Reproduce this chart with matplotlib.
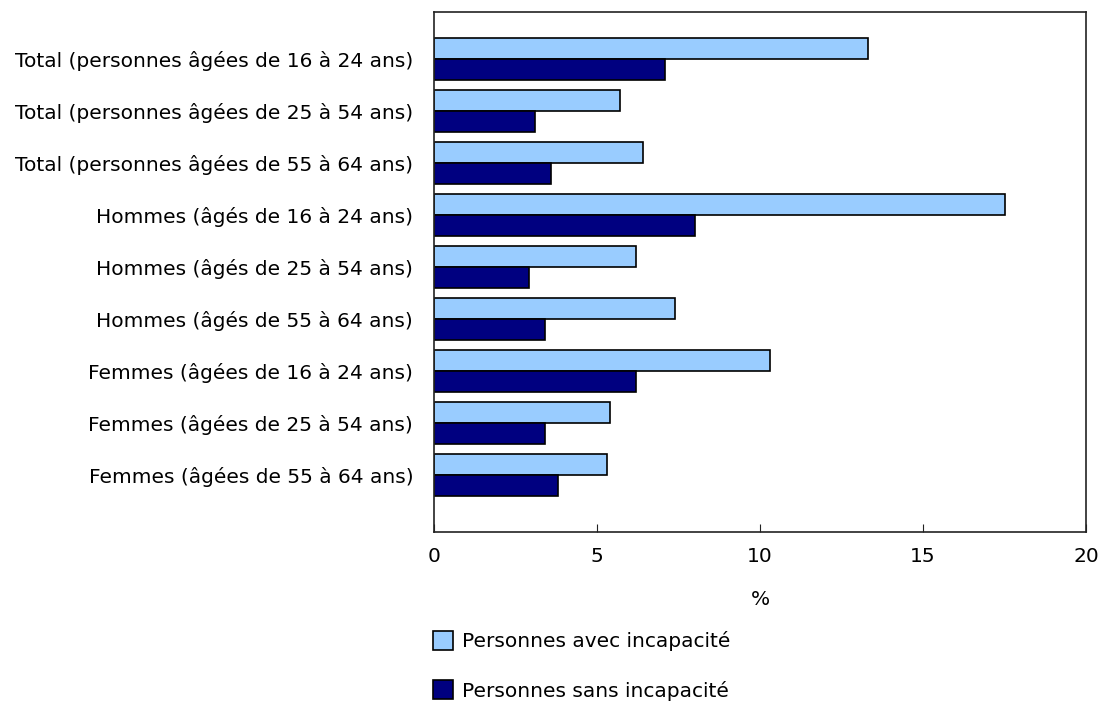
import numpy as np
import matplotlib.pyplot as plt
from matplotlib.patches import Patch

categories = [
    "Total (personnes âgées de 16 à 24 ans)",
    "Total (personnes âgées de 25 à 54 ans)",
    "Total (personnes âgées de 55 à 64 ans)",
    "Hommes (âgés de 16 à 24 ans)",
    "Hommes (âgés de 25 à 54 ans)",
    "Hommes (âgés de 55 à 64 ans)",
    "Femmes (âgées de 16 à 24 ans)",
    "Femmes (âgées de 25 à 54 ans)",
    "Femmes (âgées de 55 à 64 ans)",
]
with_disability = [13.3, 5.7, 6.4, 17.5, 6.2, 7.4, 10.3, 5.4, 5.3]
without_disability = [7.1, 3.1, 3.6, 8.0, 2.9, 3.4, 6.2, 3.4, 3.8]
series_names = ["Personnes avec incapacité", "Personnes sans incapacité"]
colors = ["#99CCFF", "#000080"]
xticks = [0, 5, 10, 15, 20]

fs = 14.5
plt.rcParams['font.family'] = ['DejaVu Sans']
fig = plt.figure(figsize=(11, 7.02), dpi=100)
ax = fig.add_axes([434 / 1100, 1 - 532 / 702, 652 / 1100, 520 / 702])

y = np.arange(len(categories))
h = 0.4
ax.barh(y - h / 2, with_disability, height=h, color=colors[0],
        edgecolor="black", linewidth=1.2)
ax.barh(y + h / 2, without_disability, height=h, color=colors[1],
        edgecolor="black", linewidth=1.2)

ax.set_xlim(0, 20)
ax.set_ylim(len(categories) - 1 + 1.1, -0.9)
ax.set_xticks(xticks)
ax.set_xticklabels([str(t) for t in xticks], fontsize=fs)
ax.set_yticks(y)
ax.set_yticklabels(categories, fontsize=fs)
ax.tick_params(axis='x', direction='in', length=6, pad=11, color='#222222')
ax.tick_params(axis='y', length=0, pad=15)
for s in ax.spines.values():
    s.set_color('#222222')
    s.set_linewidth(1.2)
ax.set_xlabel("%", fontsize=fs, labelpad=17)

handles = [Patch(facecolor=c, edgecolor="black", linewidth=1.2) for c in colors]
fig.legend(handles, series_names, loc='upper left',
           bbox_to_anchor=(433 / 1100, 1 - 631 / 702), frameon=False,
           fontsize=fs, labelspacing=1.45, handlelength=1.0, handleheight=1.05,
           handletextpad=0.45, borderaxespad=0, borderpad=0)

fig.savefig("out.png", dpi=100)
